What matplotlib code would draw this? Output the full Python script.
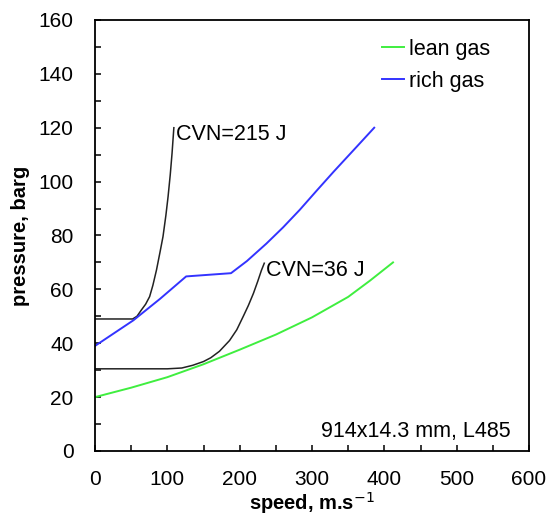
import numpy as np
import matplotlib.pyplot as plt
from matplotlib.ticker import MultipleLocator

plt.rcParams['font.family'] = ['Liberation Sans', 'DejaVu Sans']

# --- data ---
lean_x = [0, 50, 100, 150, 200, 250, 300, 350, 380, 412]
lean_p = [20, 23.5, 27.4, 32.2, 37.6, 43.2, 49.6, 57.2, 63.2, 70]

rich_x = [0, 53, 90, 126, 188, 210, 237, 260, 283, 306, 330, 362, 386]
rich_p = [39, 48.5, 56.5, 64.8, 66, 70.5, 77, 83, 89.5, 96.5, 103.7, 113, 120]

cvn215_x = [0, 52, 58, 64, 70, 75.5, 80, 85, 90, 94, 98, 101, 104, 106.5, 109]
cvn215_p = [49, 49, 50, 52.3, 54.5, 57.3, 61.5, 67.2, 74, 79.6, 87.5, 94.4, 102.5, 110.5, 120]

cvn36_x = [0, 100, 120, 135, 150, 160, 172, 186, 196, 205, 212, 219, 225, 230, 234]
cvn36_p = [30.5, 30.5, 30.8, 31.8, 33.2, 34.6, 37, 41, 45, 50, 54, 58.5, 63, 67, 69.7]

fig = plt.figure(figsize=(5.47, 5.17), dpi=100)
ax = fig.add_axes([0.1737, 0.1277, 0.7934, 0.8337])

ax.plot(cvn215_x, cvn215_p, color='#222222', lw=1.1)
ax.plot(cvn36_x, cvn36_p, color='#222222', lw=1.1)
ax.plot(lean_x, lean_p, color='#3fee3f', lw=1.4, label='lean gas')
ax.plot(rich_x, rich_p, color='#3333ff', lw=1.4, label='rich gas')

ax.text(cvn215_x[-1] + 2.5, 117.5, 'CVN=215 J', fontsize=15.5, va='center', ha='left')
ax.text(cvn36_x[-1] + 2.5, 67, 'CVN=36 J', fontsize=15.5, va='center', ha='left')
ax.text(574, 7.2, '914x14.3 mm, L485', fontsize=15.5, ha='right', va='center')

ax.set_xlim(0, 600)
ax.set_ylim(0, 160)
ax.xaxis.set_major_locator(MultipleLocator(100))
ax.xaxis.set_minor_locator(MultipleLocator(50))
ax.yaxis.set_major_locator(MultipleLocator(20))
ax.yaxis.set_minor_locator(MultipleLocator(10))
ax.tick_params(which='both', direction='in', labelsize=15, top=False, right=False,
               length=4, width=1.1)
ax.tick_params(axis='x', which='major', pad=13.5)
ax.tick_params(axis='y', which='major', pad=15.5)
for s in ax.spines.values():
    s.set_linewidth(1.3)

ax.set_xlabel('speed, m.s$^{-1}$', fontsize=14.5, fontweight='bold', labelpad=1)
ax.set_ylabel('pressure, barg', fontsize=14.5, fontweight='bold', labelpad=6)

ax.legend(loc='upper left', frameon=False, fontsize=15.5, handlelength=1.0,
          handletextpad=0.25, labelspacing=0.5, borderpad=0, borderaxespad=0,
          bbox_to_anchor=(382 / 547, 1 - 39 / 517), bbox_transform=fig.transFigure)

fig.savefig('out.png', dpi=100)
